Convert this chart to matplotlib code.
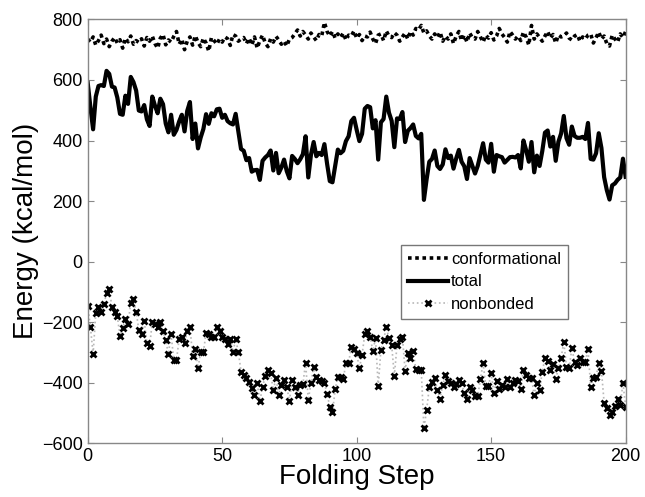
import matplotlib
matplotlib.use("Agg")
import matplotlib.pyplot as plt
import numpy as np

plt.rcParams["font.family"] = ["Liberation Sans", "DejaVu Sans"]

# -------------------------------------------------------------
# Data, folding steps 0..200
# -------------------------------------------------------------
steps = np.arange(0, 201)

conformational = [
    735, 725, 742, 715, 730, 748, 720, 735, 710, 728,
    740, 722, 733, 705, 738, 726, 745, 718, 730, 724,
    736, 712, 740, 728, 745, 720, 705, 738, 750, 716,
    732, 725, 744, 760, 718, 735, 700, 728, 742, 715,
    746, 724, 710, 738, 722, 695, 740, 730, 718, 735,
    725, 742, 736, 714, 750, 745, 728, 735, 740, 720,
    738, 715, 742, 705, 730, 748, 722, 710, 736, 725,
    744, 732, 718, 728, 712, 735, 740, 752, 765, 745,
    760, 748, 735, 755, 742, 730, 750, 745, 790, 760,
    745, 760, 738, 752, 740, 755, 732, 748, 745, 762,
    738, 750, 730, 745, 742, 758, 735, 720, 748, 752,
    730, 762, 745, 740, 756, 748, 728, 742, 755, 735,
    760, 748, 770, 765, 780, 755, 762, 745, 735, 752,
    740, 758, 728, 745, 735, 752, 720, 745, 760, 730,
    748, 725, 755, 740, 735, 760, 742, 725, 748, 738,
    756, 732, 745, 770, 752, 740, 725, 760, 748, 735,
    745, 730, 758, 742, 715, 780, 735, 752, 740, 728,
    745, 760, 738, 750, 722, 748, 742, 745, 755, 738,
    732, 745, 750, 728, 742, 735, 748, 752, 722, 740,
    758, 735, 745, 720, 712, 748, 735, 725, 752, 740,
    760,
]

nonbonded = [
    -145, -215, -305, -170, -150, -165, -140, -105, -90, -150,
    -165, -180, -245, -220, -190, -205, -135, -125, -165, -225,
    -240, -195, -270, -280, -200, -205, -215, -200, -230, -260,
    -305, -240, -325, -325, -255, -250, -270, -230, -215, -310,
    -290, -350, -300, -300, -235, -240, -250, -250, -215, -230,
    -250, -257, -272, -257, -297, -257, -297, -363, -374, -385,
    -396, -418, -440, -402, -460, -415, -378, -358, -369, -424,
    -385, -440, -407, -391, -413, -460, -391, -413, -440, -407,
    -405, -334, -457, -402, -347, -382, -391, -393, -402, -437,
    -479, -498, -422, -382, -382, -389, -334, -334, -281, -287,
    -303, -352, -308, -240, -228, -248, -295, -253, -411, -292,
    -259, -217, -253, -275, -378, -275, -257, -248, -360, -303,
    -319, -295, -355, -358, -358, -551, -490, -415, -396, -385,
    -424, -452, -407, -374, -393, -402, -413, -404, -391, -400,
    -433, -452, -413, -424, -444, -444, -389, -334, -411, -411,
    -367, -435, -393, -422, -407, -413, -389, -415, -402, -391,
    -393, -422, -358, -374, -385, -385, -440, -402, -424, -363,
    -319, -327, -358, -338, -389, -352, -319, -264, -347, -352,
    -286, -330, -341, -319, -330, -330, -290, -413, -385, -382,
    -334, -360, -466, -484, -507, -496, -477, -455, -474, -400,
    -480,
]

total = [
    590, 510, 437, 545, 580, 583, 580, 630, 620, 578,
    575, 542, 488, 485, 548, 521, 610, 593, 565, 499,
    496, 517, 470, 448, 545, 515, 490, 538, 520, 456,
    427, 485, 419, 435, 463, 485, 430, 498, 527, 405,
    456, 374, 410, 438, 487, 455, 490, 480, 503, 505,
    475, 485, 464, 457, 453, 488, 431, 372, 366, 335,
    342, 297, 302, 303, 270, 333, 344, 352, 367, 301,
    359, 292, 311, 337, 299, 275, 349, 339, 325, 338,
    355, 414, 278, 353, 395, 348, 359, 352, 388, 323,
    266, 262, 316, 370, 358, 366, 398, 414, 464, 475,
    435, 398, 422, 505, 514, 510, 440, 467, 337, 460,
    471, 545, 492, 465, 378, 473, 471, 494, 395, 432,
    441, 453, 415, 407, 422, 204, 272, 330, 339, 367,
    316, 306, 321, 371, 342, 350, 307, 341, 369, 330,
    315, 273, 342, 316, 291, 316, 353, 391, 337, 327,
    389, 297, 352, 348, 345, 327, 336, 345, 346, 344,
    352, 308, 400, 368, 330, 395, 295, 350, 316, 365,
    426, 433, 380, 412, 333, 396, 423, 481, 408, 386,
    446, 415, 409, 409, 412, 405, 458, 339, 337, 358,
    424, 375, 279, 236, 205, 252, 258, 270, 278, 340,
    280,
]

xticks = [0, 50, 100, 150, 200]
yticks = [-600, -400, -200, 0, 200, 400, 600, 800]

# -------------------------------------------------------------
# Plot
# -------------------------------------------------------------
fig = plt.figure(figsize=(6.45, 4.97), dpi=100)
ax = fig.add_axes([0.136, 0.108, 0.834, 0.853])

ax.plot(steps, conformational, color="black", ls=(0, (1, 1)), lw=2.6,
        label="conformational")
ax.plot(steps, total, color="black", ls="-", lw=3.0, label="total")
ax.plot(steps, nonbonded, color="#b8b8b8", ls=":", lw=1.2, marker="x",
        markersize=5, markeredgewidth=2.0, markeredgecolor="black",
        label="nonbonded")

ax.set_xlim(0, 200)
ax.set_ylim(-600, 800)
ax.set_xticks(xticks)
ax.set_yticks(yticks)
ax.tick_params(direction="in", length=4, color="#888888", labelsize=13,
               top=True, right=True, labeltop=False, labelright=False)
for sp in ax.spines.values():
    sp.set_color("#888888")
    sp.set_linewidth(1.0)

ax.set_xlabel("Folding Step", fontsize=20, labelpad=-1)
ax.set_ylabel("Energy (kcal/mol)", fontsize=20, labelpad=2)

leg = ax.legend(loc="upper left", bbox_to_anchor=(0.567, 0.487), fontsize=12,
                frameon=True, fancybox=False, handlelength=2.4,
                handletextpad=0.2, borderpad=0.4, labelspacing=0.45)
leg.get_frame().set_edgecolor("#555555")
leg.get_frame().set_linewidth(1.0)

fig.savefig("out.png", dpi=100)
